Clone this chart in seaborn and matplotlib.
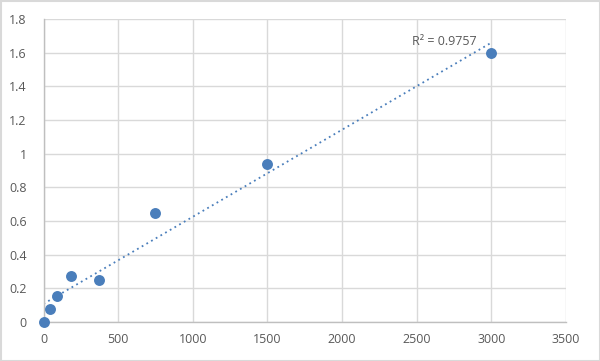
import numpy as np
import pandas as pd
import matplotlib
matplotlib.use("Agg")
import matplotlib.pyplot as plt
import seaborn as sns

conc = [0, 46.875, 93.75, 187.5, 375, 750, 1500, 3000]
od = [0.0, 0.08, 0.155, 0.275, 0.25, 0.645, 0.94, 1.597]
x_ticks = [0, 500, 1000, 1500, 2000, 2500, 3000, 3500]
y_ticks = [0, 0.2, 0.4, 0.6, 0.8, 1, 1.2, 1.4, 1.6, 1.8]
y_labels = ["0", "0.2", "0.4", "0.6", "0.8", "1", "1.2", "1.4", "1.6", "1.8"]
r2_label = "R² = 0.9757"

sns.set_style("white")
plt.rcParams['font.family'] = ['Open Sans', 'DejaVu Sans']

df = pd.DataFrame({"conc": conc, "od": od})
fig = plt.figure(figsize=(6, 3.61), dpi=100)
ax = fig.add_axes([43.5/600, 1 - 322/361, (566-43.5)/600, (322-19)/361])

color = "#4a7ebb"
slope, inter = np.polyfit(conc, od, 1)
xl = np.array([0, 3000])
sns.lineplot(x=xl, y=slope*xl + inter, ax=ax, color=color, lw=1.3,
             linestyle=(0, (1, 2)), zorder=2)
sns.scatterplot(data=df, x="conc", y="od", ax=ax, color=color, s=62,
                edgecolor=color, linewidth=0, zorder=3, clip_on=False)

ax.set_xlim(0, 3500)
ax.set_ylim(0, 1.8)
ax.set_xticks(x_ticks)
ax.set_yticks(y_ticks)
ax.set_yticklabels(y_labels)
ax.set_xlabel("")
ax.set_ylabel("")
ax.grid(True, color="#d9d9d9", lw=1)
ax.set_axisbelow(True)
for s in ["top", "right"]:
    ax.spines[s].set_visible(False)
for s in ["left", "bottom"]:
    ax.spines[s].set_color("#bfbfbf")
    ax.spines[s].set_linewidth(1)
ax.tick_params(axis="both", colors="#595959", labelsize=9, length=0, pad=8)
ax.tick_params(axis="y", pad=12)

ax.text(2900, 1.625, r2_label, ha="right", va="bottom",
        color="#595959", fontsize=9)

fig.patches.append(plt.Rectangle((0.5/600, 0.5/361), 1 - 1/600, 1 - 1/361,
                                 transform=fig.transFigure, fill=False,
                                 edgecolor="#d9d9d9", lw=1.5))
fig.savefig("out.png", dpi=100)
